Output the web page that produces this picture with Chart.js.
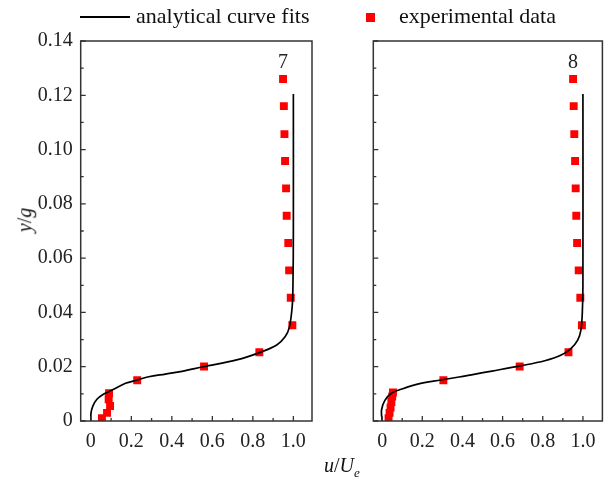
<!DOCTYPE html>
<html>
<head>
<meta charset="utf-8">
<script src="https://cdn.jsdelivr.net/npm/chart.js@4/dist/chart.umd.min.js"></script>
<style>
  body { margin: 0; background: #fff; }
  #wrap { position: relative; width: 608px; height: 490px; font-family: "Liberation Serif", "Times New Roman", serif; color: #111; }
  canvas { position: absolute; top: 0; }
  #c7 { left: 0; }
  #c8 { left: 340px; }
  .txt { position: absolute; white-space: nowrap; line-height: 1; }
  #legLine { position: absolute; left: 80px; top: 16px; width: 50px; height: 2px; background: #000; }
  #legBox { position: absolute; left: 366px; top: 13px; width: 9px; height: 9px; background: #ff0000; }
</style>
</head>
<body>
<div id="wrap">
  <canvas id="c7" width="330" height="490"></canvas>
  <canvas id="c8" width="268" height="490"></canvas>
  <div id="legLine"></div>
  <div class="txt" style="left:136px; top:5px; font-size:22px;">analytical curve fits</div>
  <div id="legBox"></div>
  <div class="txt" style="left:399px; top:5px; font-size:22px;">experimental data</div>
  <div class="txt" style="left:12px; top:210px; font-size:20px; transform: rotate(-90deg); transform-origin: center;"><i>y</i>/<i>g</i></div>
  <div class="txt" style="left:324px; top:455px; font-size:20px;"><i>u</i>/<i>U<sub style="font-size:13px;">e</sub></i></div>
</div>
<script>
// axis ticks
const xTicks = [0, 0.2, 0.4, 0.6, 0.8, 1.0];
const xTickLabels = ['0', '0.2', '0.4', '0.6', '0.8', '1.0'];
const yTicks = [0, 0.02, 0.04, 0.06, 0.08, 0.10, 0.12, 0.14];
const yTickLabels = ['0', '0.02', '0.04', '0.06', '0.08', '0.10', '0.12', '0.14'];

// station 7: fitted profile and measurements
const curve7U = [0.0, 0.001, 0.010, 0.030, 0.060, 0.105, 0.171, 0.229, 0.286, 0.368, 0.450, 0.556, 0.720, 0.836, 0.918, 0.959, 0.980, 0.994, 0.998, 1.0, 1.0];
const curve7Y = [0.0, 0.003, 0.0055, 0.008, 0.0098, 0.0114, 0.0139, 0.0151, 0.0163, 0.0173, 0.0183, 0.0200, 0.0225, 0.0253, 0.0280, 0.0310, 0.0345, 0.0420, 0.0500, 0.0700, 0.1205];
const exp7U = [0.055, 0.080, 0.095, 0.088, 0.090, 0.229, 0.559, 0.832, 0.995, 0.987, 0.979, 0.975, 0.967, 0.964, 0.959, 0.956, 0.953, 0.949];
const exp7Y = [0.001, 0.003, 0.0055, 0.008, 0.0102, 0.015, 0.0201, 0.0253, 0.0353, 0.0454, 0.0555, 0.0656, 0.0756, 0.0857, 0.0958, 0.1057, 0.116, 0.126];

// station 8: fitted profile and measurements
const curve8U = [0.0, -0.003, 0.013, 0.046, 0.095, 0.177, 0.293, 0.383, 0.457, 0.547, 0.687, 0.810, 0.892, 0.941, 0.974, 0.990, 0.997, 1.0, 1.0];
const curve8Y = [0.0, 0.004, 0.0075, 0.0102, 0.0117, 0.0136, 0.0151, 0.0162, 0.0172, 0.0184, 0.0203, 0.0222, 0.0243, 0.0268, 0.0298, 0.0335, 0.0400, 0.0500, 0.1205];
const exp8U = [0.032, 0.037, 0.042, 0.046, 0.050, 0.054, 0.305, 0.685, 0.928, 0.995, 0.987, 0.979, 0.971, 0.967, 0.964, 0.961, 0.957, 0.954, 0.951];
const exp8Y = [0.001, 0.003, 0.005, 0.007, 0.009, 0.0105, 0.015, 0.0201, 0.0253, 0.0353, 0.0454, 0.0555, 0.0656, 0.0756, 0.0857, 0.0958, 0.1057, 0.116, 0.126];

const font = { family: '"Liberation Serif", "Times New Roman", serif', size: 20 };
const ink = '#222';

const toXY = (xs, ys) => xs.map((v, i) => ({ x: v, y: ys[i] }));

// box around the plot area plus inward major/minor ticks
const framePlugin = {
  id: 'frame',
  afterDraw(chart) {
    const { ctx, chartArea: a, scales: { x, y } } = chart;
    ctx.save();
    ctx.strokeStyle = '#333';
    ctx.lineWidth = 1.5;
    ctx.strokeRect(a.left, a.top, a.right - a.left, a.bottom - a.top);
    ctx.lineWidth = 1.3;
    ctx.beginPath();
    xTicks.forEach((v, i) => {
      const px = x.getPixelForValue(v);
      ctx.moveTo(px, a.bottom); ctx.lineTo(px, a.bottom - 5);
      if (i < xTicks.length - 1) {
        const mx = x.getPixelForValue((v + xTicks[i + 1]) / 2);
        ctx.moveTo(mx, a.bottom); ctx.lineTo(mx, a.bottom - 3);
      }
    });
    yTicks.forEach((v, i) => {
      const py = y.getPixelForValue(v);
      ctx.moveTo(a.left, py); ctx.lineTo(a.left + 5, py);
      if (i < yTicks.length - 1) {
        const my = y.getPixelForValue((v + yTicks[i + 1]) / 2);
        ctx.moveTo(a.left, my); ctx.lineTo(a.left + 3, my);
      }
    });
    ctx.stroke();
    // station number above the top measurement
    const st = chart.options.plugins.station;
    const top = chart.data.datasets[1].data.at(-1);
    ctx.fillStyle = ink;
    ctx.font = '20px ' + font.family;
    ctx.textAlign = 'center';
    ctx.textBaseline = 'bottom';
    ctx.fillText(st.label, x.getPixelForValue(top.x), y.getPixelForValue(top.y) - 6);
    ctx.restore();
  }
};

function makeChart(id, curveU, curveY, expU, expY, cfg) {
  return new Chart(document.getElementById(id), {
    type: 'scatter',
    data: {
      datasets: [{
        type: 'line',
        data: toXY(curveU, curveY),
        borderColor: '#000',
        borderWidth: 1.7,
        pointRadius: 0,
        tension: 0.35,
        fill: false
      }, {
        data: toXY(expU, expY),
        pointStyle: 'rect',
        pointRadius: 5.6,
        backgroundColor: '#ff0000',
        borderColor: '#ff0000',
        borderWidth: 0
      }]
    },
    options: {
      responsive: false,
      animation: false,
      layout: { padding: { top: 41, right: cfg.padRight, bottom: 39, left: 0 } },
      plugins: {
        legend: { display: false },
        tooltip: { enabled: false },
        station: { label: cfg.label }
      },
      scales: {
        x: {
          type: 'linear',
          min: cfg.xMin,
          max: cfg.xMax,
          grid: { display: false, drawTicks: false },
          border: { display: false },
          afterBuildTicks: s => { s.ticks = xTicks.map(v => ({ value: v })); },
          afterFit: s => { s.height = 30; },
          ticks: {
            font: font,
            color: ink,
            padding: 9,
            maxRotation: 0,
            autoSkip: false,
            callback: (v, i) => xTickLabels[i]
          }
        },
        y: {
          type: 'linear',
          min: 0,
          max: 0.14,
          grid: { display: false, drawTicks: false },
          border: { display: false },
          afterBuildTicks: s => { s.ticks = yTicks.map(v => ({ value: v })); },
          afterFit: s => { s.width = cfg.yWidth; },
          ticks: {
            display: cfg.showY,
            font: font,
            color: ink,
            padding: 8,
            autoSkip: false,
            callback: (v, i) => yTickLabels[i]
          }
        }
      }
    },
    plugins: [framePlugin]
  });
}

makeChart('c7', curve7U, curve7Y, exp7U, exp7Y,
  { label: '7', xMin: -0.05, xMax: 1.092, padRight: 18, yWidth: 80.7, showY: true });
makeChart('c8', curve8U, curve8Y, exp8U, exp8Y,
  { label: '8', xMin: -0.044, xMax: 1.097, padRight: 3, yWidth: 33.3, showY: false });
</script>
</body>
</html>
